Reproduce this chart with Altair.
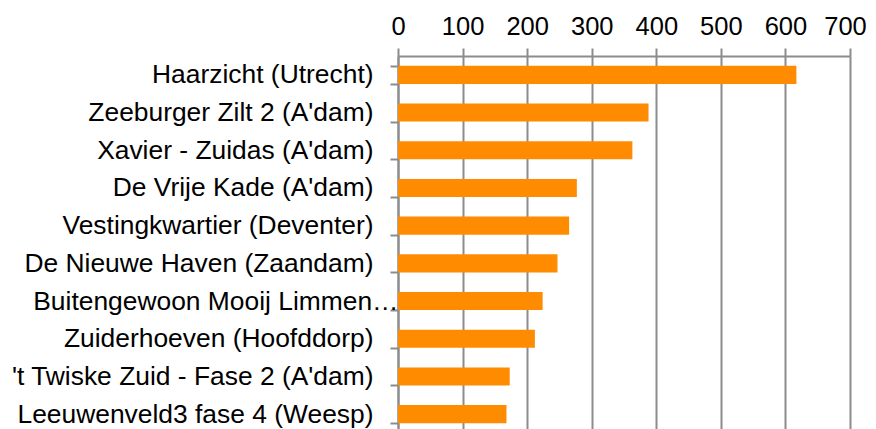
import altair as alt
import pandas as pd

projects = [
    "Haarzicht (Utrecht)",
    "Zeeburger Zilt 2 (A'dam)",
    "Xavier - Zuidas (A'dam)",
    "De Vrije Kade (A'dam)",
    "Vestingkwartier (Deventer)",
    "De Nieuwe Haven (Zaandam)",
    "Buitengewoon Mooij Limmen…",
    "Zuiderhoeven (Hoofddorp)",
    "'t Twiske Zuid - Fase 2 (A'dam)",
    "Leeuwenveld3 fase 4 (Weesp)",
]
values = [617, 388, 363, 277, 265, 247, 224, 212, 173, 168]
x_ticks = [0, 100, 200, 300, 400, 500, 600, 700]

df = pd.DataFrame({"project": projects, "value": values})

FONT = "Liberation Sans"
GRAY = "#8c8c8c"

chart = (
    alt.Chart(df)
    .mark_bar(color="#FF8C00")
    .encode(
        x=alt.X(
            "value:Q",
            scale=alt.Scale(domain=[0, 700], nice=False),
            axis=alt.Axis(
                orient="top",
                values=x_ticks,
                title=None,
                grid=True,
                gridColor=GRAY,
                gridWidth=2,
                domainColor=GRAY,
                domainWidth=2,
                tickColor=GRAY,
                tickWidth=2,
                tickSize=8,
                labelFont=FONT,
                labelFontSize=25.5,
                labelColor="black",
                labelPadding=9,
                labelOverlap=False,
                labelFlush=False,
                labelOffset={
                    "condition": {"test": "datum.value === 700", "value": -5},
                    "value": 0,
                },
            ),
        ),
        y=alt.Y(
            "project:N",
            sort=projects,
            scale=alt.Scale(paddingInner=0.52, paddingOuter=0.26),
            axis=alt.Axis(
                title=None,
                grid=False,
                tickBand="extent",
                domainColor=GRAY,
                domainWidth=2,
                tickColor=GRAY,
                tickWidth=2,
                tickSize=8,
                labelFont=FONT,
                labelFontSize=26.4,
                labelColor="black",
                labelLimit=380,
                labelOverlap=False,
                labelPadding={
                    "condition": {
                        "test": "datum.value === 'Buitengewoon Mooij Limmen…'",
                        "value": -8,
                    },
                    "value": 17,
                },
            ),
        ),
    )
    .properties(
        width=452,
        height=377,
        autosize=alt.AutoSizeParams(type="none"),
        padding={"left": 390, "top": 48, "right": 18, "bottom": 0},
    )
    .configure_view(stroke=None)
)

chart.save("out.html", embed_options={"renderer": "svg", "actions": False})
